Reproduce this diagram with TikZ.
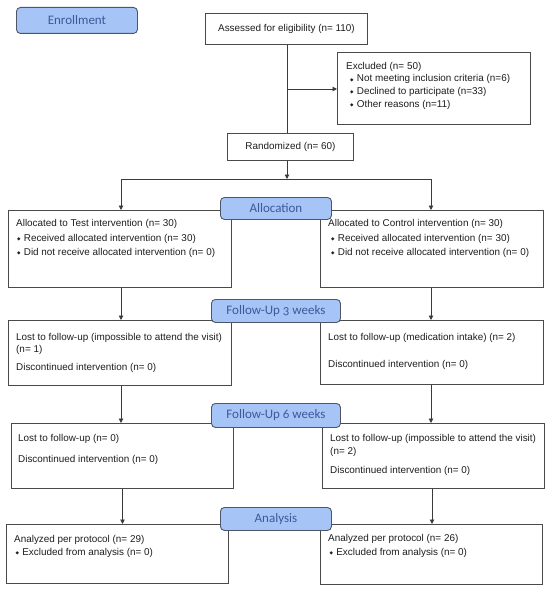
\documentclass[tikz,border=0pt]{standalone}
\usepackage{fontspec}
\setmainfont{Liberation Sans}
\newfontfamily\labfont[Numbers=OldStyle]{Carlito}
\newfontfamily\symf{DejaVu Sans}
\usetikzlibrary{arrows.meta}
\definecolor{labfill}{HTML}{A6C4F5}
\definecolor{labedge}{HTML}{4D5566}
\definecolor{labtext}{HTML}{3A5A9C}
\definecolor{boxedge}{HTML}{4A4A4A}
\definecolor{linec}{HTML}{3A3A3A}
\definecolor{txt}{HTML}{1E1E1E}
\newcommand\bul[1]{\hspace*{#1}{\symf\fontsize{4.5}{5}\selectfont\raisebox{0.8pt}{◆}}\hspace{3.2pt}}
\begin{document}
\begin{tikzpicture}[x=1pt,y=-1pt,
  box/.style={draw=boxedge, line width=0.9pt, fill=white, anchor=north west, inner sep=0pt, text=txt, font=\fontsize{9.9}{12.7}\selectfont},
  lab/.style={draw=labedge, line width=0.9pt, fill=labfill, rounded corners=4pt, anchor=north west, inner sep=0pt, text=labtext, font=\labfont\fontsize{13}{15}\selectfont},
  txtnode/.style={anchor=base west, inner sep=0pt, text=txt},
  conn/.style={draw=linec, line width=0.9pt},
  arr/.style={conn, -{Triangle[length=4.5pt,width=4.5pt]}}
]
\useasboundingbox (0,0) rectangle (550,594);
% boxes
\node[box, minimum width=162pt, minimum height=31pt] (assess) at (205,13) {Assessed for eligibility (n= 110)};
\node[box, minimum width=193pt, minimum height=72pt] (excl) at (337,52) {};
\node[box, minimum width=126pt, minimum height=27pt] (rand) at (227,133) {Randomized (n= 60)};
\node[box, minimum width=223pt, minimum height=77pt] (allocL) at (8,210) {};
\node[box, minimum width=223pt, minimum height=77pt] (allocR) at (320,210) {};
\node[box, minimum width=223pt, minimum height=65pt] (fuaL) at (8,320) {};
\node[box, minimum width=223pt, minimum height=64pt] (fuaR) at (320,320) {};
\node[box, minimum width=222pt, minimum height=65pt] (fubL) at (11,423) {};
\node[box, minimum width=222pt, minimum height=65pt] (fubR) at (322,423) {};
\node[box, minimum width=222pt, minimum height=59pt] (anaL) at (6,524) {};
\node[box, minimum width=222pt, minimum height=60pt] (anaR) at (320,524) {};
% texts
\node[txtnode, font=\fontsize{9.9}{12.7}\selectfont] (exclT) at (346,69.2) {\begin{tabular}[t]{@{}l@{}}Excluded (n= 50)\\ \bul{4pt}Not meeting inclusion criteria (n=6)\\ \bul{4pt}Declined to participate (n=33)\\ \bul{4pt}Other reasons (n=11)\end{tabular}};
\node[txtnode, font=\fontsize{9.9}{14.2}\selectfont] (allocLT) at (16,226.8) {\begin{tabular}[t]{@{}l@{}}Allocated to Test intervention (n= 30)\\ \bul{1pt}Received allocated intervention (n= 30)\\ \bul{1pt}Did not receive allocated intervention (n= 0)\end{tabular}};
\node[txtnode, font=\fontsize{9.9}{14.2}\selectfont] (allocRT) at (328,226.8) {\begin{tabular}[t]{@{}l@{}}Allocated to Control intervention (n= 30)\\ \bul{3pt}Received allocated intervention (n= 30)\\ \bul{3pt}Did not receive allocated intervention (n= 0)\end{tabular}};
\node[txtnode, font=\fontsize{9.9}{12}\selectfont] (fuaLT) at (16,340) {\begin{tabular}[t]{@{}l@{}}Lost to follow-up (impossible to attend the visit)\\ (n= 1)\\[6pt] Discontinued intervention (n= 0)\end{tabular}};
\node[txtnode, font=\fontsize{9.9}{12.7}\selectfont] (fuaRT) at (328,340.2) {\begin{tabular}[t]{@{}l@{}}Lost to follow-up (medication intake) (n= 2)\\[14.6pt] Discontinued intervention (n= 0)\end{tabular}};
\node[txtnode, font=\fontsize{9.9}{12.7}\selectfont] (fubLT) at (18,441.5) {\begin{tabular}[t]{@{}l@{}}Lost to follow-up (n= 0)\\[8.3pt] Discontinued intervention (n= 0)\end{tabular}};
\node[txtnode, font=\fontsize{9.9}{13}\selectfont] (fubRT) at (330,441.5) {\begin{tabular}[t]{@{}l@{}}Lost to follow-up (impossible to attend the visit)\\ (n= 2)\\[6pt] Discontinued intervention (n= 0)\end{tabular}};
\node[txtnode, font=\fontsize{9.9}{13}\selectfont] (anaLT) at (14,542.5) {\begin{tabular}[t]{@{}l@{}}Analyzed per protocol (n= 29)\\ \bul{1.5pt}Excluded from analysis (n= 0)\end{tabular}};
\node[txtnode, font=\fontsize{9.9}{13.5}\selectfont] (anaRT) at (328,541.8) {\begin{tabular}[t]{@{}l@{}}Analyzed per protocol (n= 26)\\ \bul{1.5pt}Excluded from analysis (n= 0)\end{tabular}};
% connectors
\coordinate (mid) at (287,0);
\coordinate (colL) at (121,0);
\coordinate (colR) at (431,0);
\coordinate (split) at (287,89);
\coordinate (bar) at (287,179);
\draw[conn] (assess.south -| mid) -- (rand.north -| mid);
\draw[arr] (split) -- (excl.west |- split);
\draw[arr] (rand.south -| mid) -- (bar);
\draw[conn] (bar -| colL) -- (bar -| colR);
\draw[arr] (bar -| colL) -- (allocL.north -| colL);
\draw[arr] (bar -| colR) -- (allocR.north -| colR);
\draw[arr] (allocL.south -| colL) -- (fuaL.north -| colL);
\draw[arr] (allocR.south -| colR) -- (fuaR.north -| colR);
\draw[arr] (fuaL.south -| colL) -- (fubL.north -| colL);
\draw[arr] (fuaR.south -| colR) -- (fubR.north -| colR);
\coordinate (colL2) at (122.5,0);
\coordinate (colR2) at (432,0);
\draw[arr] (fubL.south -| colL2) -- (anaL.north -| colL2);
\draw[arr] (fubR.south -| colR2) -- (anaR.north -| colR2);
% stage labels
\node[lab, minimum width=121pt, minimum height=26pt] (enroll) at (16,7) {Enrollment};
\node[lab, minimum width=111pt, minimum height=22pt] (allocation) at (220,197) {Allocation};
\node[lab, minimum width=129pt, minimum height=23pt] (fua) at (211,299) {Follow-Up 3 weeks};
\node[lab, minimum width=129pt, minimum height=24pt] (fub) at (211,403) {Follow-Up 6 weeks};
\node[lab, minimum width=111pt, minimum height=23pt] (analysis) at (220,507) {Analysis};
\end{tikzpicture}
\end{document}
